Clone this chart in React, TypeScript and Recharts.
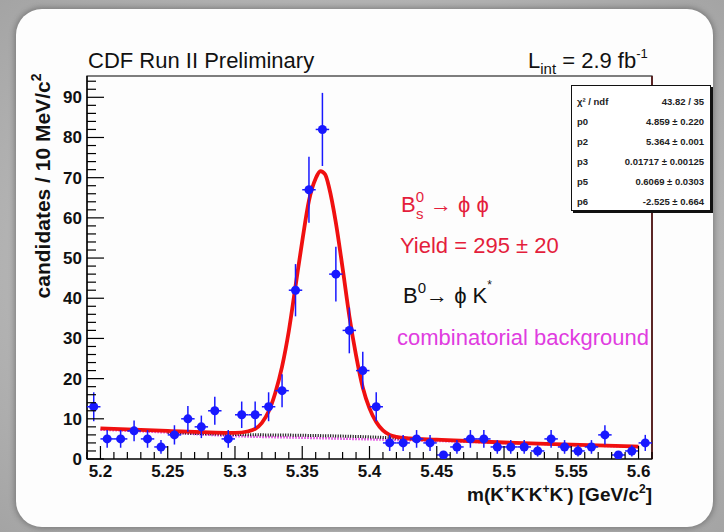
import {
  ComposedChart,
  ErrorBar,
  Line,
  ReferenceArea,
  ReferenceLine,
  Scatter,
  XAxis,
  YAxis,
} from 'recharts';

const FONT = '"Liberation Sans", Arial, Helvetica, sans-serif';

// histogram bins (10 MeV wide)
const binCenters = [
  5.195, 5.205, 5.215, 5.225, 5.235, 5.245, 5.255, 5.265, 5.275, 5.285,
  5.295, 5.305, 5.315, 5.325, 5.335, 5.345, 5.355, 5.365, 5.375, 5.385,
  5.395, 5.405, 5.415, 5.425, 5.435, 5.445, 5.455, 5.465, 5.475, 5.485,
  5.495, 5.505, 5.515, 5.525, 5.535, 5.545, 5.555, 5.565, 5.575, 5.585,
  5.595, 5.605,
];
const counts = [
  13, 5, 5, 7, 5, 3, 6, 10, 8, 12,
  5, 11, 11, 13, 17, 42, 67, 82, 46, 32,
  22, 13, 4, 4, 5, 4, 1, 3, 5, 5,
  3, 3, 3, 2, 5, 3, 2, 3, 6, 1,
  2, 4,
];
const countErrors = [
  3.6, 2.2, 2.2, 2.6, 2.2, 1.7, 2.4, 3.2, 2.8, 3.5,
  2.2, 3.3, 3.3, 3.6, 4.1, 6.5, 8.2, 9.1, 6.8, 5.7,
  4.7, 3.6, 2.0, 2.0, 2.2, 2.0, 1.0, 1.7, 2.2, 2.2,
  1.7, 1.7, 1.7, 1.4, 2.2, 1.7, 1.4, 1.7, 2.4, 1.0,
  1.4, 2.0,
];
const binHalfWidth = 0.005;

// total fit (red)
const fitX = [
  5.2, 5.25, 5.3, 5.31, 5.315, 5.32, 5.325, 5.33, 5.335, 5.34,
  5.345, 5.35, 5.355, 5.36, 5.3635, 5.367, 5.37, 5.375, 5.38, 5.385,
  5.39, 5.395, 5.4, 5.405, 5.41, 5.415, 5.42, 5.43, 5.45, 5.5,
  5.55, 5.6,
];
const fitY = [
  7.6, 7.0, 6.5, 6.9, 7.5, 9.0, 11.8, 16.5, 23, 31.8,
  43, 54.2, 64.3, 69.8, 71.6, 70.8, 67.5, 58.8, 47.5, 35.6,
  25.8, 17.8, 12.6, 9.2, 7.1, 6.0, 5.5, 5.1, 4.8, 4.1,
  3.6, 3.1,
];

// combinatorial background (magenta dotted)
const combX = [5.2, 5.25, 5.3, 5.35, 5.4, 5.45, 5.5, 5.55, 5.6];
const combY = [7.3, 6.6, 5.7, 5.3, 4.9, 4.5, 4.0, 3.5, 3.0];

// B0 -> phi K* on top of background (black dotted)
const refX = [5.25, 5.3, 5.35, 5.4, 5.45];
const refY = [6.6, 6.1, 5.9, 5.5, 4.7];

const xMajorTicks = [5.2, 5.25, 5.3, 5.35, 5.4, 5.45, 5.5, 5.55, 5.6];
const xTickLabels = ['5.2', '5.25', '5.3', '5.35', '5.4', '5.45', '5.5', '5.55', '5.6'];
const yMajorTicks = [0, 10, 20, 30, 40, 50, 60, 70, 80, 90];
const yTickLabels = ['0', '10', '20', '30', '40', '50', '60', '70', '80', '90'];

const fitStats = [
  { name: 'χ² / ndf', value: '43.82 / 35' },
  { name: 'p0', value: '4.859 ± 0.220' },
  { name: 'p2', value: '5.364 ± 0.001' },
  { name: 'p3', value: '0.01717 ± 0.00125' },
  { name: 'p5', value: '0.6069 ± 0.0303' },
  { name: 'p6', value: '-2.525 ± 0.664' },
];

const X_MIN = 5.19;
const X_MAX = 5.61;
const Y_MAX = 95.3;

const PLOT_LEFT = 87;
const PLOT_RIGHT = 652;
// half a bin in pixels, for the horizontal error bars
const BIN_HALF_PX = ((PLOT_RIGHT - PLOT_LEFT) / (X_MAX - X_MIN)) * binHalfWidth;

const xAllTicks = Array.from({ length: 43 }, (_, i) => Number((X_MIN + i * 0.01).toFixed(2)));
const yAllTicks = Array.from({ length: 48 }, (_, i) => i * 2);

const points = binCenters.map((x, i) => ({ x, y: counts[i], ey: countErrors[i] }));
const fitData = fitX.map((x, i) => ({ x, y: fitY[i] }));
const combData = combX.map((x, i) => ({ x, y: combY[i] }));
const refData = refX.map((x, i) => ({ x, y: refY[i] }));

const XTick = (props: any) => {
  const { x, y, payload } = props;
  const i = xMajorTicks.findIndex(t => Math.abs(t - payload.value) < 1e-6);
  const major = i >= 0;
  return (
    <g>
      <line x1={x} x2={x} y1={y} y2={y - (major ? 13 : 7)} stroke="#000" strokeWidth={1.2} />
      {major && (
        <text x={x} y={y + 18} textAnchor="middle" fontSize={17} fontWeight="bold" fill="#111" fontFamily={FONT}>
          {xTickLabels[i]}
        </text>
      )}
    </g>
  );
};

const YTick = (props: any) => {
  const { x, y, payload } = props;
  const i = yMajorTicks.indexOf(payload.value);
  const major = i >= 0;
  return (
    <g>
      <line x1={x} x2={x + (major ? 17 : 9)} y1={y} y2={y} stroke="#000" strokeWidth={1.2} />
      {major && (
        <text x={x - 5} y={y + 6} textAnchor="end" fontSize={17} fontWeight="bold" fill="#111" fontFamily={FONT}>
          {yTickLabels[i]}
        </text>
      )}
    </g>
  );
};

const Dot = (props: any) => (
  <g>
    <line
      x1={props.cx - BIN_HALF_PX}
      x2={props.cx + BIN_HALF_PX}
      y1={props.cy}
      y2={props.cy}
      stroke="#1818ff"
      strokeWidth={1.5}
    />
    <circle cx={props.cx} cy={props.cy} r={4.5} fill="#1818ff" />
  </g>
);

const RED = '#e41e3c';
const MAGENTA = '#e03ce0';

const App = () => {
  return (
    <div
      style={{
        position: 'absolute',
        left: 0,
        top: 0,
        width: 724,
        height: 532,
        overflow: 'hidden',
        background: 'radial-gradient(ellipse at 50% 50%, #c6c6c6 0%, #b2b2b2 70%, #a4a4a4 100%)',
        fontFamily: FONT,
      }}
    >
      <div
        style={{
          position: 'absolute',
          left: 16,
          top: 9,
          width: 697,
          height: 518,
          borderRadius: 26,
          background: '#fdfdfd',
          boxShadow: '0 0 5px 2px rgba(80,80,80,0.45)',
        }}
      />
      <div style={{ position: 'absolute', left: 0, top: 0 }}>
        <ComposedChart width={724} height={532} margin={{ top: 76, right: 72, bottom: 43, left: 47 }}>
          <XAxis
            type="number"
            dataKey="x"
            domain={[X_MIN, X_MAX]}
            allowDataOverflow
            ticks={xAllTicks}
            interval={0}
            tickSize={0}
            tickMargin={0}
            tickLine={false}
            axisLine={{ stroke: '#000', strokeWidth: 1.2 }}
            tick={(p: any) => <XTick {...p} />}
            height={30}
          />
          <YAxis
            type="number"
            dataKey="y"
            domain={[0, Y_MAX]}
            allowDataOverflow
            ticks={yAllTicks}
            interval={0}
            tickSize={0}
            tickMargin={0}
            tickLine={false}
            axisLine={{ stroke: '#000', strokeWidth: 1.2 }}
            tick={(p: any) => <YTick {...p} />}
            width={40}
          />
          <ReferenceArea x1={X_MIN} x2={X_MAX} y1={0} y2={Y_MAX} fill="none" stroke="#000" strokeWidth={1.2} />
          <ReferenceLine x={X_MAX} stroke="#5a1818" strokeWidth={1.6} />
          <Line
            data={combData}
            dataKey="y"
            type="monotone"
            stroke={MAGENTA}
            strokeWidth={2.5}
            strokeDasharray="1.5 1.5"
            dot={false}
            isAnimationActive={false}
          />
          <Line
            data={refData}
            dataKey="y"
            type="monotone"
            stroke="#000"
            strokeWidth={3}
            strokeDasharray="1 1.5"
            dot={false}
            isAnimationActive={false}
          />
          <Line
            data={fitData}
            dataKey="y"
            type="monotone"
            stroke="#f01010"
            strokeWidth={3.8}
            dot={false}
            isAnimationActive={false}
          />
          <Scatter data={points} dataKey="y" shape={(p: any) => <Dot {...p} />} isAnimationActive={false}>
            <ErrorBar dataKey="ey" direction="y" width={0} stroke="#1818ff" strokeWidth={1.5} />
          </Scatter>
        </ComposedChart>
      </div>

      <svg width={724} height={532} style={{ position: 'absolute', left: 0, top: 0, pointerEvents: 'none' }}>
        <text x={88} y={68} fontSize={22} fill="#111" fontFamily={FONT}>
          CDF Run II Preliminary
        </text>
        <text x={528} y={68} fontSize={22} fill="#111" fontFamily={FONT}>
          L<tspan fontSize={15} dy={6}>int</tspan>
          <tspan dy={-6}> = 2.9 fb</tspan>
          <tspan fontSize={13} dy={-10}>-1</tspan>
        </text>
        <text
          transform="translate(50,186) rotate(-90)"
          textAnchor="middle"
          fontSize={21}
          fontWeight="bold"
          fill="#111"
          fontFamily={FONT}
        >
          candidates / 10 MeV/c<tspan fontSize={14} dy={-9}>2</tspan>
        </text>
        <text x={652} y={501} textAnchor="end" fontSize={19} fontWeight="bold" fill="#111" fontFamily={FONT}>
          m(K<tspan fontSize={12} dy={-8}>+</tspan>
          <tspan dy={8}>K</tspan>
          <tspan fontSize={12} dy={-8}>-</tspan>
          <tspan dy={8}>K</tspan>
          <tspan fontSize={12} dy={-8}>+</tspan>
          <tspan dy={8}>K</tspan>
          <tspan fontSize={12} dy={-8}>-</tspan>
          <tspan dy={8}>)  [GeV/c</tspan>
          <tspan fontSize={12} dy={-8}>2</tspan>
          <tspan dy={8}>]</tspan>
        </text>

        <text x={401} y={212} fontSize={22} fill={RED} fontFamily={FONT}>
          B<tspan fontSize={15} dy={-10}>0</tspan>
        </text>
        <text x={416} y={219} fontSize={15} fill={RED} fontFamily={FONT}>
          s
        </text>
        <text x={430} y={212} fontSize={22} fill={RED} fontFamily={FONT}>
          → ϕ ϕ
        </text>
        <text x={400} y={253} fontSize={22} fill={RED} fontFamily={FONT}>
          Yield = 295 ± 20
        </text>
        <text x={403} y={303} fontSize={22} fill="#111" fontFamily={FONT}>
          B<tspan fontSize={15} dy={-10}>0</tspan>
          <tspan dy={10}>→ ϕ K</tspan>
          <tspan fontSize={12} dy={-14}>*</tspan>
        </text>
        <text x={397} y={345} fontSize={22} fill={MAGENTA} fontFamily={FONT}>
          combinatorial background
        </text>
      </svg>

      <div
        style={{
          position: 'absolute',
          left: 571,
          top: 85,
          width: 140,
          height: 126,
          background: '#fff',
          border: '1.5px solid #111',
          boxShadow: '2px 2px 0 #111',
          fontSize: 9.5,
          fontWeight: 'bold',
          color: '#222',
          boxSizing: 'border-box',
          padding: '5px 6px 0 5px',
        }}
      >
        {fitStats.map(s => (
          <div
            key={s.name}
            style={{ display: 'flex', justifyContent: 'space-between', height: 20, alignItems: 'center' }}
          >
            <span>{s.name}</span>
            <span>{s.value}</span>
          </div>
        ))}
      </div>
    </div>
  );
};

export default App;
